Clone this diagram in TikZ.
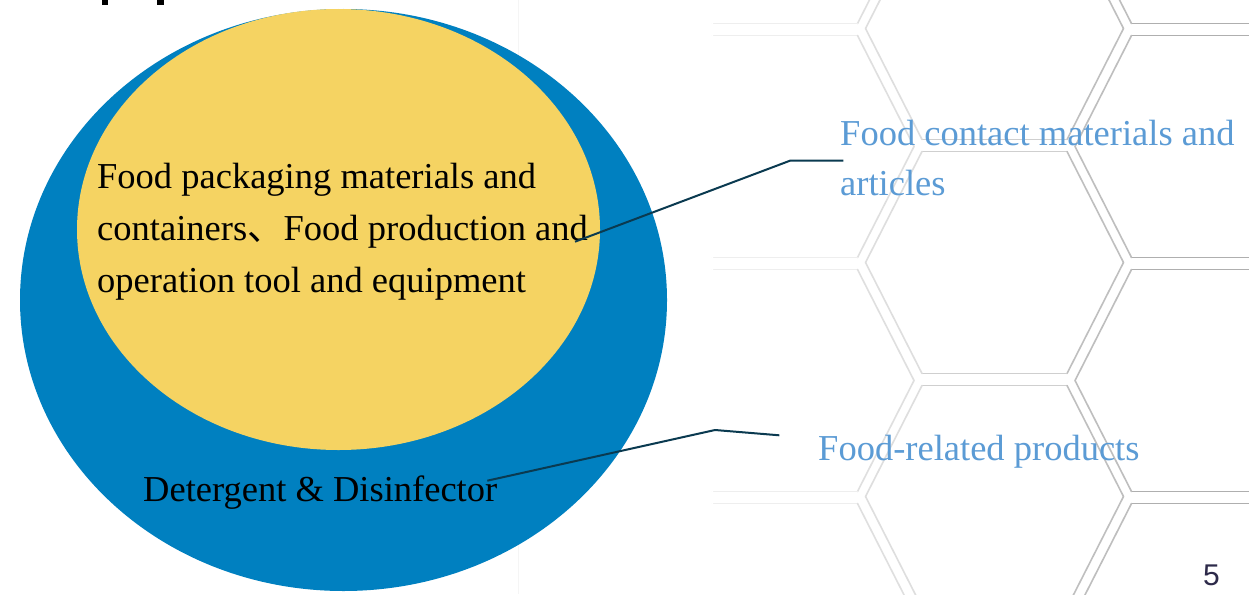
\documentclass[tikz,border=0pt]{standalone}
\usepackage{fontspec}
\setmainfont{Liberation Serif}
\newfontfamily\cjkfont{Noto Sans CJK SC}
\newfontfamily\pagefont{Liberation Sans}
\usetikzlibrary{shapes.geometric}
\definecolor{outerblue}{RGB}{0,128,192}
\definecolor{inneryellow}{RGB}{245,211,98}
\definecolor{labelblue}{RGB}{91,155,213}
\definecolor{leadercol}{RGB}{10,58,80}
\definecolor{pagenumcol}{RGB}{45,42,74}
\tikzset{
  hexline/.style={line width=1.6pt, line cap=round},
  blob/.style={ellipse, inner sep=0pt, outer sep=0pt, draw=none},
  darklabel/.style={inner sep=0pt, text=black, align=left, font=\fontsize{36.5}{52}\selectfont},
  bluelabel/.style={inner sep=0pt, text=labelblue, align=left, font=\fontsize{36.5}{50}\selectfont},
  leader/.style={draw=leadercol, line width=2pt, line join=round}
}
\newcommand\hexedge[4]{%
  \pgfmathsetmacro\hexmid{(#1+#3)/2}%
  \pgfmathsetmacro\hexlev{min(255,238-0.15*(\hexmid-785)+max(0,760-\hexmid)*0.25)}%
  \pgfmathsetmacro\hexpct{(255-\hexlev)/2.55}%
  \draw[hexline,draw=black!\hexpct] (#1,#2) -- (#3,#4);}
\newcommand\hexcell[2]{%
  \pgfmathsetmacro\hxl{#1-129}\pgfmathsetmacro\hxa{#1-72.5}%
  \pgfmathsetmacro\hxb{#1+72.5}\pgfmathsetmacro\hxr{#1+129}%
  \pgfmathsetmacro\hyt{#2-111}\pgfmathsetmacro\hyb{#2+111}%
  \hexedge{\hxa}{\hyt}{\hxb}{\hyt}%
  \hexedge{\hxb}{\hyt}{\hxr}{#2}%
  \hexedge{\hxr}{#2}{\hxb}{\hyb}%
  \hexedge{\hxb}{\hyb}{\hxa}{\hyb}%
  \hexedge{\hxa}{\hyb}{\hxl}{#2}%
  \hexedge{\hxl}{#2}{\hxa}{\hyt}}
\begin{document}
\begin{tikzpicture}[x=1pt,y=-1pt]
\useasboundingbox (0,0) rectangle (1249,594);
\fill[white] (0,0) rectangle (1249,594);
% honeycomb background
\foreach \cx in {785,1204}{\foreach \cy in {-87.5,146.5,380.5,614.5}{\hexcell{\cx}{\cy}}}
\foreach \cx in {575.5,994.5}{\foreach \cy in {28.5,262.5,496.5}{\hexcell{\cx}{\cy}}}
\draw[black!4, line width=1pt] (518,0) -- (518,594);
% cut-off heading descenders
\fill[black] (101.7,0) rectangle (108.3,5);
\fill[black] (156.7,0) rectangle (164,5);
% ellipses
\node[blob, fill=outerblue, minimum width=647pt, minimum height=582pt] (outer) at (343.5,300) {};
\node[blob, fill=inneryellow, minimum width=523pt, minimum height=441pt] (inner) at (338.5,229.5) {};
% labels (base = baseline of the last line)
\node[darklabel, anchor=base west] (innertext) at (97,292) {Food packaging materials and\\containers{\cjkfont 、}Food production and\\operation tool and equipment};
\node[darklabel, anchor=base west] (outertext) at (143,501.7) {Detergent \& Disinfector};
\node[bluelabel, anchor=base west] (fcm) at (840,195) {Food contact materials and\\articles};
\node[bluelabel, anchor=base west] (frp) at (818,460) {Food-related products};
\node[inner sep=0pt, anchor=base west, text=pagenumcol, font=\pagefont\fontsize{30}{30}\selectfont] (pnum) at (1203,585) {5};
% leaders
\coordinate (s1) at (575,241.7);
\coordinate (k1) at (790,160.7);
\coordinate (e1) at (843.3,160.7);
\coordinate (s2) at (487.3,480.7);
\coordinate (k2) at (715,430);
\coordinate (e2) at (779.3,435.3);
\draw[leader] (s1) -- (k1) -- (e1);
\draw[leader] (s2) -- (k2) -- (e2);
\end{tikzpicture}
\end{document}
